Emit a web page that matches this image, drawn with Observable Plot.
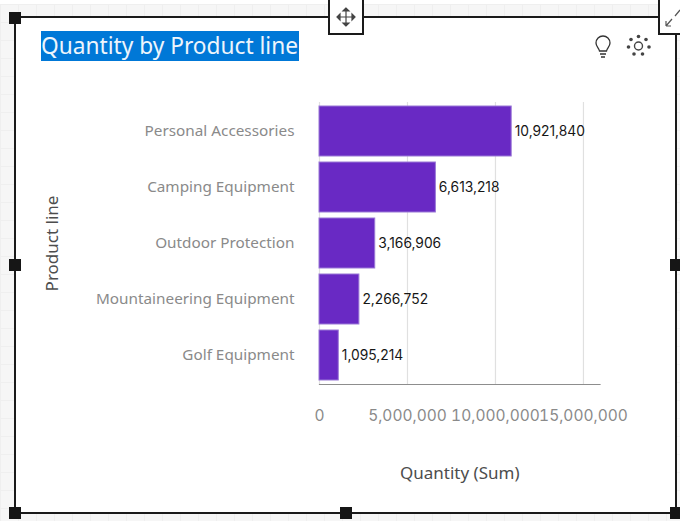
<!DOCTYPE html>
<html><head><meta charset="utf-8">
<script src="https://cdn.jsdelivr.net/npm/d3@7"></script>
<script src="https://cdn.jsdelivr.net/npm/@observablehq/plot@0.6"></script>
<style>
html,body{margin:0;padding:0;width:680px;height:521px;overflow:hidden;background:#fff;font-family:"Noto Sans",sans-serif}
#bg{position:absolute;left:0;top:4px;width:680px;height:517px;background-color:#f6f6f6;
background-image:linear-gradient(#efefef 1px,transparent 1px),linear-gradient(90deg,#efefef 1px,transparent 1px);background-size:18px 18px}
#panel{position:absolute;left:14px;top:16px;width:659px;height:494px;background:#fff;border:2px solid #1a1a1a}
.h{position:absolute;width:12px;height:12px;background:#161616}
.box{position:absolute;background:#fff;border:2px solid #1a1a1a;box-sizing:border-box;border-top:none}
#title{position:absolute;left:41px;top:31px;height:30px;line-height:30px;width:258px;background:#0078d7;color:#eef5fc;font-size:22.7px;white-space:nowrap}
#chart{position:absolute;left:0;top:0}
svg.ic{position:absolute;overflow:visible}
</style></head><body>
<div id="bg"></div><div id="panel"></div>
<div class="box" style="left:328px;top:0;width:36px;height:35px"></div>
<div class="box" style="left:658px;top:0;width:24px;height:35px"></div>
<div class="h" style="left:9px;top:12px"></div>
<div class="h" style="left:9px;top:259px"></div>
<div class="h" style="left:9px;top:507px"></div>
<div class="h" style="left:340px;top:507px"></div>
<div class="h" style="left:670px;top:259px"></div>
<div class="h" style="left:670px;top:507px"></div>
<div id="title">Quantity by Product line</div>
<div id="chart"></div>
<svg class="ic" style="left:336px;top:7px" width="20" height="20" viewBox="0 0 20 20" fill="none" stroke="#444" stroke-width="1.2"><path d="M10 2V18M2 10H18"/><path d="M10 1l-3 3h6zM10 19l-3-3h6zM1 10l3-3v6zM19 10l-3-3v6z" fill="#444"/></svg>
<svg class="ic" style="left:665px;top:8px" width="15" height="20" viewBox="0 0 15 20" fill="none" stroke="#555" stroke-width="1.2"><path d="M1 18L7 11M1 18h5M1 18v-5M10 8L15 2"/></svg>
<svg class="ic" style="left:594px;top:35px" width="18" height="24" viewBox="0 0 18 24" fill="none" stroke="#333" stroke-width="1.3"><path d="M5.500 16C5 13 2 11.500 2 8A7 7 0 0 1 16 8C16 11.500 13 13 12.500 16ZM6 19H12M7 22H11"/></svg>
<svg class="ic" style="left:627px;top:34px" width="24" height="24" viewBox="0 0 24 24" fill="#444" stroke="none">
<circle cx="11.500" cy="12" r="4" fill="none" stroke="#444" stroke-width="1.4"/><circle cx="11.500" cy="2.500" r="1.800"/><circle cx="4" cy="5.500" r="1.800"/><circle cx="19" cy="5.500" r="1.800"/><circle cx="1.500" cy="13" r="1.800"/><circle cx="22" cy="13" r="1.800"/><circle cx="7" cy="20" r="1.800"/><circle cx="15.500" cy="20" r="1.800"/></svg>
<script>
const productLines = ["Personal Accessories","Camping Equipment","Outdoor Protection","Mountaineering Equipment","Golf Equipment"];
const quantities = [10921840,6613218,3166906,2266752,1095214];
const xTicks = [0,5000000,10000000,15000000];
const xMax = 15940000;
const yTitle = "Product line";
const xTitle = "Quantity (Sum)";
const table = productLines.map((p,i)=>({line:p,qty:quantities[i]}));
const fmt = d3.format(",");
const chart = Plot.plot({
  width:680,height:521,
  marginLeft:319,marginRight:80.5,marginTop:102,marginBottom:137,
  style:{background:"transparent",fontFamily:'"Noto Sans",sans-serif',overflow:"visible"},
  x:{domain:[0,xMax],label:null},
  y:{domain:productLines,paddingInner:0.1,paddingOuter:0.05,label:null},
  marks:[
    Plot.ruleX(xTicks,{stroke:"#e0e0e0",strokeWidth:1.2}),
    Plot.barX(table,{x:"qty",y:"line",fill:"#6929c4",stroke:"#9a78d6",strokeWidth:1}),
    Plot.frame({anchor:"bottom",stroke:"#8d8d8d",strokeWidth:1.2}),
    Plot.text(table,{x:"qty",y:"line",text:d=>fmt(d.qty),textAnchor:"start",dx:3,fill:"#161616",fontSize:13.8,fontFamily:"Inter"}),
    Plot.axisX({ticks:xTicks,tickFormat:fmt,tickSize:0,tickPadding:25,fontSize:15.5,fontFamily:"Inter",fill:"#8a8a8a",label:null}),
    Plot.axisY({tickSize:0,tickPadding:25,fontSize:15.3,fill:"#8a8a8a",label:null}),
    Plot.text([xTitle],{frameAnchor:"bottom",dy:89,lineAnchor:"middle",fontSize:17,fill:"#4d4d4d"}),
    Plot.text([yTitle],{frameAnchor:"left",dx:-267,rotate:-90,textAnchor:"middle",fontSize:17,fill:"#4d4d4d"})
  ]
});
document.getElementById("chart").appendChild(chart);
</script>
</body></html>
